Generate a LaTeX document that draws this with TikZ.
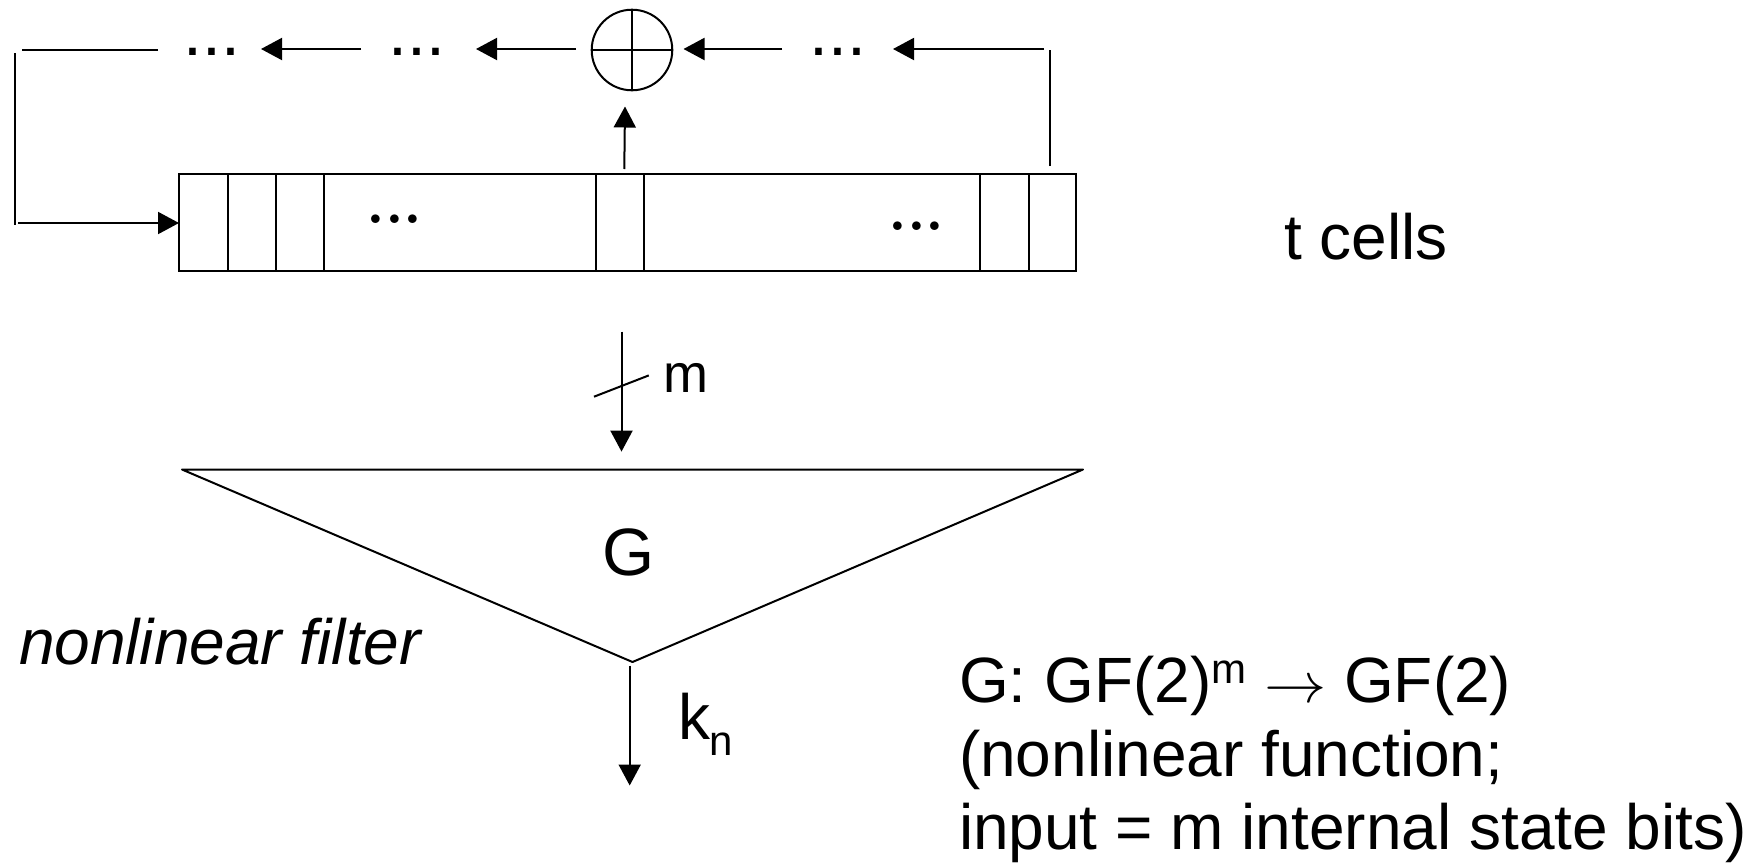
\documentclass[tikz,border=0pt]{standalone}
\usepackage{fontspec}
\newfontfamily\arial{Liberation Sans}
\usetikzlibrary{arrows.meta}
\tikzset{
  x=0.5pt,y=-0.5pt,
  wire/.style={line width=1pt,black},
  arr/.style={wire,-{Triangle[length=10.5pt,width=11pt]}},
  lab/.style={inner sep=0,outer sep=0,anchor=base west,font=\arial\fontsize{32}{36.7}\selectfont},
  big/.style={inner sep=0,outer sep=0,anchor=base,font=\arial\fontsize{33.5}{40}\selectfont},
  sq/.style={inner sep=0,outer sep=0,anchor=base,font=\arial\fontsize{34}{37}\selectfont},
  rd/.style={inner sep=0,outer sep=0,anchor=base,font=\rmfamily\bfseries\fontsize{30}{37}\selectfont},
  lbox/.style={draw,wire,inner sep=0,outer sep=0,minimum width=448.5pt,minimum height=48.5pt},
}
\begin{document}
\begin{tikzpicture}
\useasboundingbox (0,0) rectangle (1757,863);
% register
\node[lbox,anchor=north west] (reg) at (179,174) {};
\foreach \i/\xx in {a/228,b/276,c/324,d/596,e/644,f/980,g/1029}{
  \coordinate (t\i) at (\xx,174);
  \coordinate (b\i) at (\xx,271);
  \draw[wire] (t\i) -- (b\i);
}
\node[rd] (d1) at (394.4,223) {...};
\node[rd] (d2) at (916.6,230.5) {...};
% xor
\node[circle,draw,wire,inner sep=0,outer sep=0,minimum size=40.3pt] (xor) at (632,50) {};
\draw[wire] (xor.north) -- (xor.south);
\draw[wire] (xor.west) -- (xor.east);
% feedback
\node[sq] (s1) at (212,55) {...};
\node[sq] (s2) at (417,55) {...};
\node[sq] (s3) at (838,55) {...};
\coordinate (a1s) at (361,49); \coordinate (a1e) at (261,49);
\coordinate (a2s) at (576,49); \coordinate (a2e) at (476,49);
\coordinate (a3s) at (782,49); \coordinate (a3e) at (683.5,49);
\coordinate (a4s) at (1044,49); \coordinate (a4e) at (893,49);
\draw[arr] (a1s) -- (a1e);
\draw[arr] (a2s) -- (a2e);
\draw[arr] (a3s) -- (a3e);
\draw[arr] (a4s) -- (a4e);
\coordinate (r1) at (1050,166); \coordinate (r2) at (1050,50);
\draw[wire] (r1) -- (r2);
\coordinate (l1) at (158,50); \coordinate (l2) at (22.4,50);
\draw[wire] (l1) -- (l2);
\coordinate (v1) at (15,53); \coordinate (v2) at (15,225);
\draw[wire] (v1) -- (v2);
\coordinate (i1) at (18,223); \coordinate (i2) at (179,223);
\draw[arr] (i1) -- (i2);
\coordinate (u1) at (624.3,169); \coordinate (u2) at (625,106.5);
\draw[arr] (u1) -- (u2);
% m
\coordinate (m1) at (621.5,331.7); \coordinate (m2) at (621.5,451.6);
\draw[arr] (m1) -- (m2);
\coordinate (sl1) at (594,396.7); \coordinate (sl2) at (648.8,375.4);
\draw[wire] (sl1) -- (sl2);
\node[lab,font=\arial\fontsize{27}{32}\selectfont] (mlab) at (663,392) {m};
% filter
\coordinate (g1) at (182,469.5); \coordinate (g2) at (1083,469.5); \coordinate (g3) at (632.5,662);
\draw[wire,line join=round] (g1) -- (g2) -- (g3) -- cycle;
\node[big] (G) at (629,575) {G};
\node[lab,font=\arial\itshape\fontsize{32}{37}\selectfont] (nf) at (19,664.5) {nonlinear filter};
\coordinate (k1) at (629.7,665.6); \coordinate (k2) at (629.7,785.5);
\draw[arr] (k1) -- (k2);
\node[lab] (kn) at (678,739.5) {k};
\node[lab,font=\arial\fontsize{21}{24}\selectfont] (knsub) at (709,755) {n};
% labels
\node[lab] (tc) at (1284,259) {t cells};
\node[lab,align=left] (desc) at (959,849.4) {G: GF(2)\raisebox{0.3em}{\fontsize{21}{24}\selectfont m} \scalebox{1.25}[1.15]{$\rightarrow$} GF(2)\\(nonlinear function;\\input = m internal state bits)};
\end{tikzpicture}
\end{document}
